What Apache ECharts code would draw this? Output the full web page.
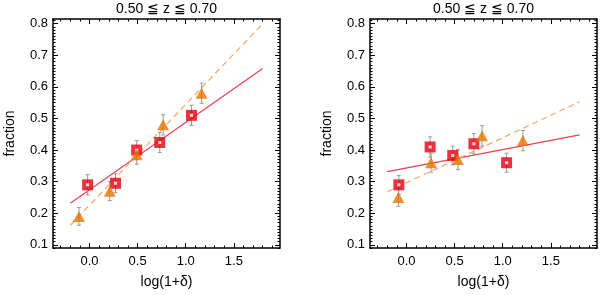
<!DOCTYPE html>
<html>
<head>
<meta charset="utf-8">
<script src="https://cdn.jsdelivr.net/npm/echarts@6/dist/echarts.min.js"></script>
<style>html,body{margin:0;padding:0;background:#fff}#c{width:600px;height:295px}</style>
</head>
<body>
<div id="c"></div>
<script>
// ---- data ----
const titleText = "0.50 ≦ z ≦ 0.70";
const xName = "log(1+δ)";
const yName = "fraction";
const xMajorTicks = [0.0, 0.5, 1.0, 1.5];
const yMajorTicks = [0.1, 0.2, 0.3, 0.4, 0.5, 0.6, 0.7, 0.8];

// left panel
const leftRedX = [-0.02, 0.27, 0.49, 0.73, 1.06];
const leftRedY = [0.29, 0.295, 0.40, 0.424, 0.51];
const leftRedErr = [0.032, 0.03, 0.03, 0.032, 0.032];
const leftOrgX = [-0.11, 0.21, 0.49, 0.765, 1.165];
const leftOrgY = [0.19, 0.27, 0.385, 0.48, 0.58];
const leftOrgErr = [0.028, 0.03, 0.03, 0.032, 0.032];
const leftRedFitX = [-0.2, 1.8];
const leftRedFitY = [0.232, 0.658];
const leftOrgFitX = [-0.2, 1.8];
const leftOrgFitY = [0.162, 0.80];

// right panel
const rightRedX = [-0.08, 0.245, 0.48, 0.70, 1.04];
const rightRedY = [0.29, 0.41, 0.383, 0.42, 0.36];
const rightRedErr = [0.03, 0.032, 0.03, 0.032, 0.03];
const rightOrgX = [-0.085, 0.255, 0.535, 0.785, 1.21];
const rightOrgY = [0.25, 0.36, 0.37, 0.445, 0.43];
const rightOrgErr = [0.028, 0.03, 0.032, 0.032, 0.032];
const rightRedFitX = [-0.2, 1.8];
const rightRedFitY = [0.332, 0.448];
const rightOrgFitX = [-0.2, 1.8];
const rightOrgFitY = [0.268, 0.553];

// ---- styling / layout ----
const X_MIN = -0.38, X_MAX = 1.98, Y_MIN = 0.09, Y_MAX = 0.815;
const FONT = "Liberation Sans";
const grids = [
  {left: 53, top: 19, width: 227, height: 229},
  {left: 370, top: 19, width: 227, height: 229}
];
const RED = "#e5000f", ORG = "#e67600", RED_LINE = "#ee4050", ORG_LINE = "#f5a565", ERR = "#9a9a9a";

function minorList(lo, hi, step) {
  const out = [];
  for (let k = Math.ceil(lo / step - 1e-9); k * step <= hi + 1e-9; k++) out.push(+(k * step).toFixed(4));
  return out;
}
const xMinor = minorList(X_MIN, X_MAX, 0.1);
const yMinor = minorList(Y_MIN, Y_MAX, 0.01);

const xAxes = [], yAxes = [];
grids.forEach((g, gi) => {
  const base = {gridIndex: gi, type: 'value', min: X_MIN, max: X_MAX, splitLine: {show: false}};
  xAxes.push(Object.assign({}, base, {
    position: 'bottom',
    axisLine: {show: true, onZero: false, lineStyle: {color: '#000', width: 1.5}},
    axisTick: {show: true, inside: true, length: 5, customValues: xMajorTicks, lineStyle: {color: '#000', width: 1}},
    axisLabel: {show: true, customValues: xMajorTicks, margin: 7, color: '#000', fontSize: 13, fontFamily: FONT,
      formatter: v => v.toFixed(1)},
    name: xName, nameLocation: 'middle', nameGap: 27,
    nameTextStyle: {color: '#000', fontSize: 14, fontFamily: FONT}
  }));
  xAxes.push(Object.assign({}, base, {
    position: 'bottom', axisLine: {show: false, onZero: false},
    axisTick: {show: true, inside: true, length: 2.5, customValues: xMinor, lineStyle: {color: '#000', width: 1}},
    axisLabel: {show: false}
  }));
  xAxes.push(Object.assign({}, base, {
    position: 'top',
    axisLine: {show: true, onZero: false, lineStyle: {color: '#000', width: 1.5}},
    axisTick: {show: true, inside: true, length: 5, customValues: xMajorTicks, lineStyle: {color: '#000', width: 1}},
    axisLabel: {show: false}
  }));
  xAxes.push(Object.assign({}, base, {
    position: 'top', axisLine: {show: false, onZero: false},
    axisTick: {show: true, inside: true, length: 2.5, customValues: xMinor, lineStyle: {color: '#000', width: 1}},
    axisLabel: {show: false}
  }));

  const ybase = {gridIndex: gi, type: 'value', min: Y_MIN, max: Y_MAX, splitLine: {show: false}};
  yAxes.push(Object.assign({}, ybase, {
    position: 'left',
    axisLine: {show: true, onZero: false, lineStyle: {color: '#000', width: 1.5}},
    axisTick: {show: true, inside: true, length: 5, customValues: yMajorTicks, lineStyle: {color: '#000', width: 1}},
    axisLabel: {show: true, customValues: yMajorTicks, margin: 5, color: '#000', fontSize: 13, fontFamily: FONT,
      formatter: v => v.toFixed(1)},
    name: yName, nameLocation: 'middle', nameGap: 36, nameRotate: 90,
    nameTextStyle: {color: '#000', fontSize: 14, fontFamily: FONT}
  }));
  yAxes.push(Object.assign({}, ybase, {
    position: 'left', axisLine: {show: false, onZero: false},
    axisTick: {show: true, inside: true, length: 2.5, customValues: yMinor, lineStyle: {color: '#000', width: 1}},
    axisLabel: {show: false}
  }));
  yAxes.push(Object.assign({}, ybase, {
    position: 'right',
    axisLine: {show: true, onZero: false, lineStyle: {color: '#000', width: 1.5}},
    axisTick: {show: true, inside: true, length: 5, customValues: yMajorTicks, lineStyle: {color: '#000', width: 1}},
    axisLabel: {show: false}
  }));
  yAxes.push(Object.assign({}, ybase, {
    position: 'right', axisLine: {show: false, onZero: false},
    axisTick: {show: true, inside: true, length: 2.5, customValues: yMinor, lineStyle: {color: '#000', width: 1}},
    axisLabel: {show: false}
  }));
});

const zip = (xs, ys) => xs.map((x, i) => [x, ys[i]]);
const zip3 = (xs, ys, es) => xs.map((x, i) => [x, ys[i], es[i]]);

function errSeries(gi, xs, ys, es) {
  return {
    type: 'custom', xAxisIndex: gi * 4, yAxisIndex: gi * 4, z: 2,
    data: zip3(xs, ys, es),
    renderItem: (params, api) => {
      const x = api.value(0), y = api.value(1), e = api.value(2);
      const t = api.coord([x, y + e]), b = api.coord([x, y - e]);
      const cap = 2;
      const st = {stroke: ERR, lineWidth: 1};
      return {type: 'group', children: [
        {type: 'line', shape: {x1: t[0], y1: t[1], x2: b[0], y2: b[1]}, style: st},
        {type: 'line', shape: {x1: t[0] - cap, y1: t[1], x2: t[0] + cap, y2: t[1]}, style: st},
        {type: 'line', shape: {x1: b[0] - cap, y1: b[1], x2: b[0] + cap, y2: b[1]}, style: st}
      ]};
    }
  };
}
function lineSeries(gi, xs, ys, color, dashed) {
  return {
    type: 'line', xAxisIndex: gi * 4, yAxisIndex: gi * 4, z: 1, data: zip(xs, ys),
    showSymbol: false, symbol: 'none', silent: true,
    lineStyle: {color: color, width: 1.2, type: dashed ? [6, 4] : 'solid'}
  };
}
function squareSeries(gi, xs, ys) {
  return [
    {type: 'scatter', xAxisIndex: gi * 4, yAxisIndex: gi * 4, z: 3, data: zip(xs, ys),
      symbol: 'rect', symbolSize: 11, itemStyle: {color: RED}},
    {type: 'scatter', xAxisIndex: gi * 4, yAxisIndex: gi * 4, z: 4, data: zip(xs, ys),
      symbol: 'rect', symbolSize: 3, itemStyle: {color: '#fff'}}
  ];
}
function triSeries(gi, xs, ys) {
  return {type: 'scatter', xAxisIndex: gi * 4, yAxisIndex: gi * 4, z: 5, data: zip(xs, ys),
    symbol: 'triangle', symbolSize: [12, 11], itemStyle: {color: ORG}};
}

const series = [
  lineSeries(0, leftRedFitX, leftRedFitY, RED_LINE, false),
  lineSeries(0, leftOrgFitX, leftOrgFitY, ORG_LINE, true),
  errSeries(0, leftRedX, leftRedY, leftRedErr),
  errSeries(0, leftOrgX, leftOrgY, leftOrgErr),
  ...squareSeries(0, leftRedX, leftRedY),
  triSeries(0, leftOrgX, leftOrgY),
  lineSeries(1, rightRedFitX, rightRedFitY, RED_LINE, false),
  lineSeries(1, rightOrgFitX, rightOrgFitY, ORG_LINE, true),
  errSeries(1, rightRedX, rightRedY, rightRedErr),
  errSeries(1, rightOrgX, rightOrgY, rightOrgErr),
  ...squareSeries(1, rightRedX, rightRedY),
  triSeries(1, rightOrgX, rightOrgY)
];

const chart = echarts.init(document.getElementById('c'), null, {renderer: 'canvas'});
chart.setOption({
  backgroundColor: '#fff',
  animation: false,
  grid: grids.map(g => Object.assign({outerBoundsMode: 'none', containLabel: false}, g)),
  xAxis: xAxes,
  yAxis: yAxes,
  graphic: grids.map(g => ({
    type: 'text', x: g.left + g.width / 2, y: 9,
    style: {text: titleText, textAlign: 'center', textVerticalAlign: 'middle',
      fill: '#000', fontSize: 14, fontFamily: FONT}
  })),
  series: series
});
</script>
</body>
</html>
